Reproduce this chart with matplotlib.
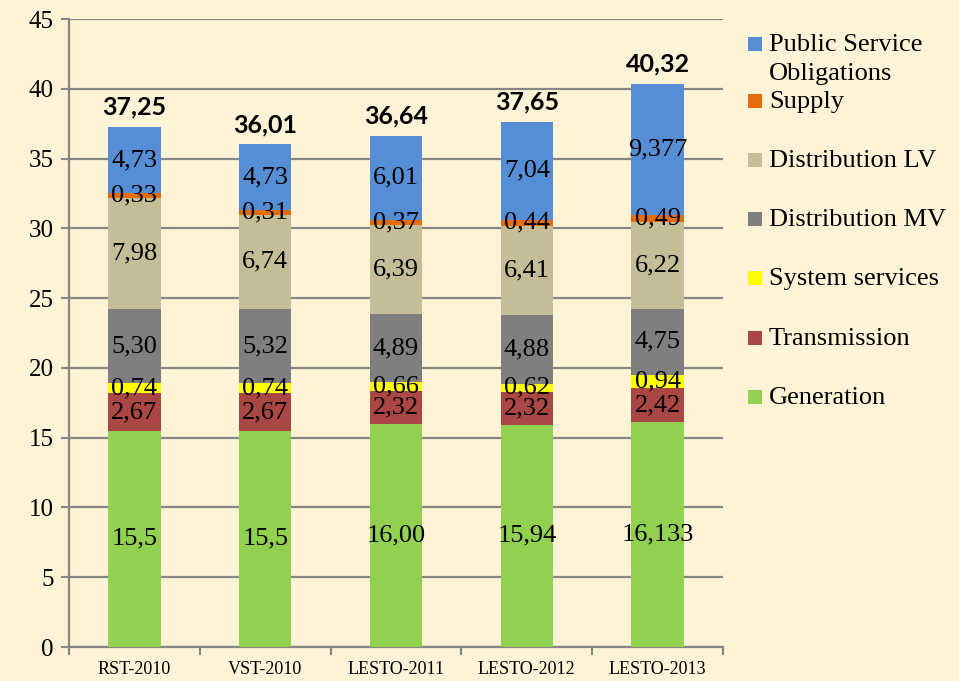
import matplotlib
matplotlib.use("Agg")
import matplotlib.pyplot as plt
from matplotlib.patches import Rectangle
import numpy as np

categories = ["RST-2010", "VST-2010", "LESTO-2011", "LESTO-2012", "LESTO-2013"]
series_names = ["Generation", "Transmission", "System services", "Distribution MV",
                "Distribution LV", "Supply", "Public Service\nObligations"]
generation = [15.5, 15.5, 16.00, 15.94, 16.133]
transmission = [2.67, 2.67, 2.32, 2.32, 2.42]
system_services = [0.74, 0.74, 0.66, 0.62, 0.94]
distribution_mv = [5.30, 5.32, 4.89, 4.88, 4.75]
distribution_lv = [7.98, 6.74, 6.39, 6.41, 6.22]
supply = [0.33, 0.31, 0.37, 0.44, 0.49]
pso = [4.73, 4.73, 6.01, 7.04, 9.377]
totals = ["37,25", "36,01", "36,64", "37,65", "40,32"]

generation_lbl = ["15,5", "15,5", "16,00", "15,94", "16,133"]
transmission_lbl = ["2,67", "2,67", "2,32", "2,32", "2,42"]
system_services_lbl = ["0,74", "0,74", "0,66", "0,62", "0,94"]
distribution_mv_lbl = ["5,30", "5,32", "4,89", "4,88", "4,75"]
distribution_lv_lbl = ["7,98", "6,74", "6,39", "6,41", "6,22"]
supply_lbl = ["0,33", "0,31", "0,37", "0,44", "0,49"]
pso_lbl = ["4,73", "4,73", "6,01", "7,04", "9,377"]

colors = ["#92D050", "#AA4643", "#FFFF00", "#7F7F7F", "#C4BD97", "#E46C0A", "#558ED5"]

data = [generation, transmission, system_services, distribution_mv,
        distribution_lv, supply, pso]
labels = [generation_lbl, transmission_lbl, system_services_lbl, distribution_mv_lbl,
          distribution_lv_lbl, supply_lbl, pso_lbl]

bg = "#FEF3D6"
serif = ["Liberation Serif", "DejaVu Serif"]

fig = plt.figure(figsize=(9.59, 6.81), dpi=100, facecolor=bg)
ax = fig.add_axes([69/959, 1-647/681, (723-69)/959, (647-19)/681])
ax.set_facecolor(bg)

x = np.arange(len(categories))
bottom = np.zeros(len(categories))
for vals, lbls, col in zip(data, labels, colors):
    vals = np.array(vals)
    ax.bar(x, vals, 0.4, bottom=bottom, color=col, edgecolor="none", zorder=3)
    for xi, b, v, l in zip(x, bottom, vals, lbls):
        ax.text(xi, b + v/2, l, ha="center", va="center", fontsize=19,
                family=serif, color="black", zorder=5)
    bottom = bottom + vals

for xi, top, t in zip(x, bottom, totals):
    ax.annotate(t, (xi, top), xytext=(0, 6), textcoords="offset points",
                ha="center", va="bottom", fontsize=18, fontweight="bold",
                family=["Lato", "DejaVu Sans"], color="black", zorder=5)

ax.set_xlim(-0.5, len(categories) - 0.5)
ax.set_ylim(0, 45)
ax.set_yticks(np.arange(0, 46, 5))
ax.set_yticklabels([str(v) for v in range(0, 46, 5)], family=serif, fontsize=18)
ax.set_xticks(x)
ax.set_xticklabels(categories, family=serif, fontsize=13)
ax.set_xticks(np.arange(-0.5, len(categories), 1.0), minor=True)
ax.tick_params(axis="x", which="major", length=0, pad=10)
ax.tick_params(axis="x", which="minor", length=6, width=1.5, color="#868686")
ax.tick_params(axis="y", length=6, width=1.5, color="#868686", pad=5)
ax.yaxis.grid(True, color="#868686", linewidth=1.6, zorder=0)
ax.set_axisbelow(True)
for s in ["top", "right"]:
    ax.spines[s].set_visible(False)
for s in ["left", "bottom"]:
    ax.spines[s].set_color("#868686")
    ax.spines[s].set_linewidth(1.6)

# legend (manual, Excel-style)
H, W = 681, 959
leg_y = [44, 101, 160, 219, 278, 338, 397]
for name, col, yp in zip(reversed(series_names), reversed(colors), leg_y):
    fig.patches.append(Rectangle((748/W, 1-(yp+7)/H), 14/W, 14/H, transform=fig.transFigure,
                                 facecolor=col, edgecolor="none"))
    fig.text(769/W, 1-(yp-10)/H, name, ha="left", va="top", fontsize=19,
             family=serif, linespacing=1.4)

fig.savefig("out.png", dpi=100, facecolor=bg)
